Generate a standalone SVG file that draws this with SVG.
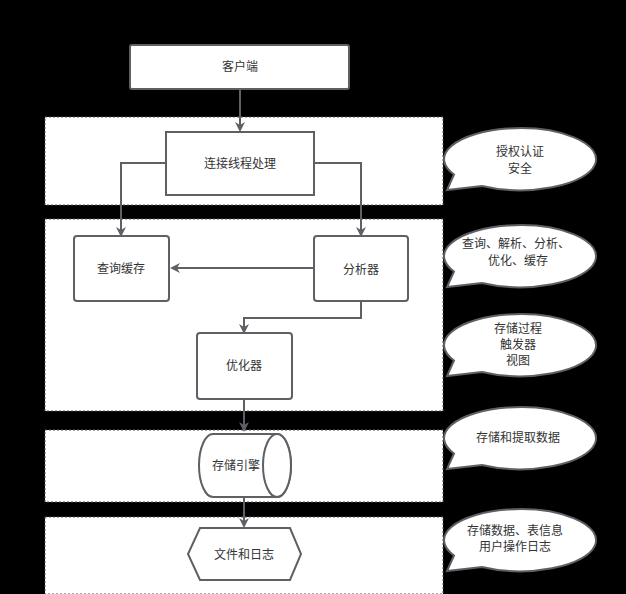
<svg xmlns="http://www.w3.org/2000/svg" width="626" height="594" viewBox="0 0 626 594">
<defs>
<style>
text{font-family:"Liberation Sans","Noto Sans CJK SC",sans-serif;font-size:12px;fill:#333;text-anchor:middle;dominant-baseline:central}
.layer{fill:#fff;stroke:#555;stroke-width:1;stroke-dasharray:2 2}
.node{fill:#fff;stroke:#5f5f66;stroke-width:2}
.bub{fill:#fff;stroke:#5f5f66;stroke-width:2}
.con{fill:none;stroke:#5f5f66;stroke-width:2;marker-end:url(#ah)}
</style>
<marker id="ah" markerWidth="10" markerHeight="10" refX="8" refY="5" orient="auto" markerUnits="userSpaceOnUse"><path d="M0,0 L10,5 L0,10 L3,5 Z" fill="#5f5f66"/></marker>
<path id="bubble" class="bub" d="M-38,27 L-73,31 L-66,15.5 A76,31 0 1 1 -38,27 Z"/>
</defs>
<rect width="626" height="594" fill="#000"/>
<g id="layers">
<rect class="layer" x="45" y="117" width="398" height="88"/>
<rect class="layer" x="45" y="219" width="398" height="192"/>
<rect class="layer" x="45" y="430" width="398" height="72"/>
<rect class="layer" x="45" y="517" width="398" height="77"/>
</g>
<g id="connectors">
<path class="con" d="M240,89 V130"/>
<path class="con" d="M166,163 H121 V235"/>
<path class="con" d="M314,163 H361 V235"/>
<path class="con" d="M314,268 H172"/>
<path class="con" d="M361,301 V318 H244 V332"/>
<path class="con" d="M244,399 V430"/>
<path class="con" d="M244,497 V526"/>
</g>
<g id="client"><rect class="node" x="130" y="45" width="219" height="44" rx="2"/><text x="240" y="67">客户端</text></g>
<g id="conn"><rect class="node" x="166" y="132" width="148" height="63"/><text x="240" y="164">连接线程处理</text></g>
<g id="cache"><rect class="node" x="74" y="236" width="95" height="65" rx="3"/><text x="121" y="269">查询缓存</text></g>
<g id="parser"><rect class="node" x="314" y="236" width="94" height="65" rx="3"/><text x="361" y="270">分析器</text></g>
<g id="optimizer"><rect class="node" x="197" y="333" width="95" height="66" rx="3"/><text x="244" y="366">优化器</text></g>
<g id="engine"><path class="node" d="M213,434 H277 A14,31.5 0 0 1 277,497 H213 A14,31.5 0 0 1 213,434 Z"/><ellipse class="node" cx="277" cy="465.5" rx="14" ry="31.5"/><text x="236" y="466">存储引擎</text></g>
<g id="files"><path class="node" d="M200,528 H290 L301,554 L290,580 H200 L188,554 Z"/><text x="244" y="555">文件和日志</text></g>
<g id="b1"><use href="#bubble" transform="translate(520,159)"/><text x="520" y="152">授权认证</text><text x="520" y="169">安全</text></g>
<g id="b2"><use href="#bubble" transform="translate(520,256)"/><text x="516" y="244">查询、解析、分析、</text><text x="518" y="261">优化、缓存</text></g>
<g id="b3"><use href="#bubble" transform="translate(520,345)"/><text x="518" y="329">存储过程</text><text x="518" y="345">触发器</text><text x="518" y="361">视图</text></g>
<g id="b4"><use href="#bubble" transform="translate(520,438)"/><text x="518" y="438">存储和提取数据</text></g>
<g id="b5"><use href="#bubble" transform="translate(520,540)"/><text x="515" y="531">存储数据、表信息</text><text x="515" y="547">用户操作日志</text></g>
</svg>
